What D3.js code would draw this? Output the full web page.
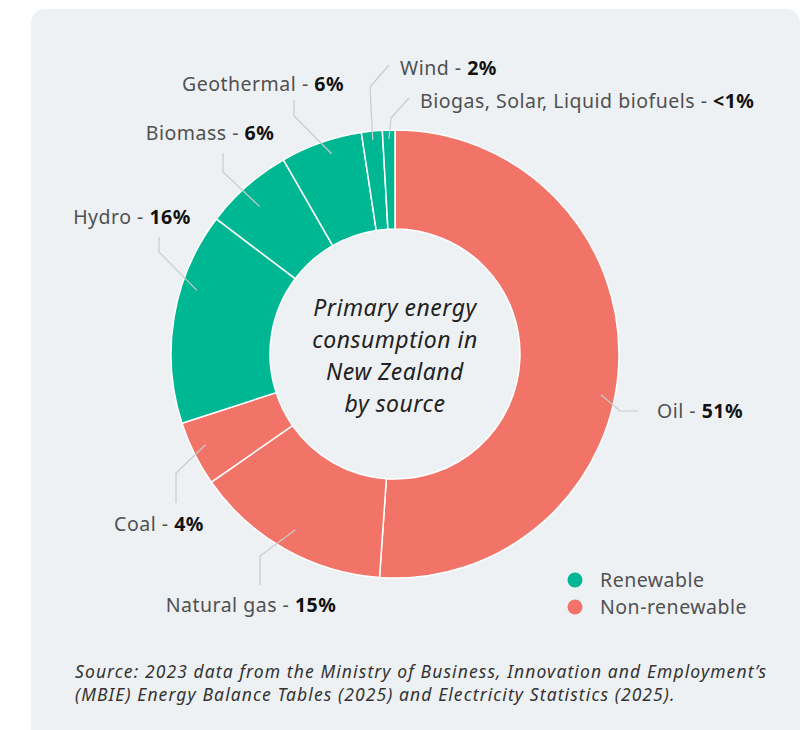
<!DOCTYPE html>
<html>
<head>
<meta charset="utf-8">
<script src="https://cdn.jsdelivr.net/npm/d3@7"></script>
<style>
  body { margin: 0; background: #fff; }
  svg { display: block; }
</style>
</head>
<body>
<div id="chart"></div>
<script>
// data (percent shares, clockwise from 12 o'clock)
const sources = ['Oil', 'Natural gas', 'Coal', 'Hydro', 'Biomass', 'Geothermal', 'Wind', 'Biogas, Solar, Liquid biofuels'];
const shares = [51.1, 14.2, 4.7, 15.3, 6.4, 5.9, 1.5, 0.9];
const shareLabels = ['51%', '15%', '4%', '16%', '6%', '6%', '2%', '<1%'];
const groups = ['Non-renewable', 'Non-renewable', 'Non-renewable', 'Renewable', 'Renewable', 'Renewable', 'Renewable', 'Renewable'];
const legendItems = ['Renewable', 'Non-renewable'];
const centerLines = ['Primary energy', 'consumption in', 'New Zealand', 'by source'];
const sourceNote = [
    'Source: 2023 data from the Ministry of Business, Innovation and Employment\u2019s',
    '(MBIE) Energy Balance Tables (2025) and Electricity Statistics (2025).'
];

// label placement: where along the slice the leader starts, the leader bends, label anchor
const labelLayout = [
    { t: 0.55, r: 210, pts: [[620, 411], [638, 411]], x: 657, y: 411, anchor: 'start' },
    { t: 0.5,  r: 202, pts: [[260, 556], [260, 585]], x: 251, y: 605, anchor: 'middle' },
    { t: 0.55, r: 210, pts: [[176, 473], [176, 503]], x: 159, y: 524, anchor: 'middle' },
    { t: 0.65, r: 208, pts: [[159, 252], [159, 237]], x: 132, y: 217, anchor: 'middle' },
    { t: 0.45, r: 200, pts: [[223, 172], [223, 153]], x: 210, y: 133, anchor: 'middle' },
    { t: 0.58, r: 210, pts: [[294, 116], [294, 100]], x: 263, y: 84, anchor: 'middle' },
    { t: 0.5,  r: 215, pts: [[370, 87], [389, 65]],   x: 400, y: 68, anchor: 'start' },
    { t: 0.5,  r: 215, pts: [[391, 118], [409, 98]],  x: 420, y: 101, anchor: 'start' }
];

const width = 805;
const height = 730;
const cx = 395, cy = 354;
const outerR = 224, innerR = 125;
const font = '"Noto Sans", sans-serif';

const color = d3.scaleOrdinal()
    .domain(legendItems)
    .range(['#00b793', '#f27468']);

const svg = d3.select('#chart')
    .append('svg')
    .attr('width', width)
    .attr('height', height);

// panel background
svg.append('rect')
    .attr('x', 31)
    .attr('y', 9)
    .attr('width', 769)
    .attr('height', 740)
    .attr('rx', 14)
    .attr('fill', '#eef1f4');

const data = sources.map((s, i) => ({ name: s, value: shares[i], label: shareLabels[i], group: groups[i] }));

const pie = d3.pie()
    .sort(null)
    .value(d => d.value);

const arcs = pie(data);

const arc = d3.arc()
    .innerRadius(innerR)
    .outerRadius(outerR);

const g = svg.append('g')
    .attr('transform', `translate(${cx},${cy})`);

g.selectAll('path.slice')
    .data(arcs)
    .enter()
    .append('path')
    .attr('class', 'slice')
    .attr('d', arc)
    .attr('fill', d => color(d.data.group))
    .attr('stroke', '#fff')
    .attr('stroke-width', 1.5);

// leader lines + labels
const lead = svg.append('g').attr('class', 'leaders');
arcs.forEach((a, i) => {
    const L = labelLayout[i];
    const ang = a.startAngle + L.t * (a.endAngle - a.startAngle);
    const start = [cx + L.r * Math.sin(ang), cy - L.r * Math.cos(ang)];
    const pts = [start].concat(L.pts);
    lead.append('polyline')
        .attr('points', pts.map(p => p.join(',')).join(' '))
        .attr('fill', 'none')
        .attr('stroke', '#c9cbcd')
        .attr('stroke-width', 1.2);

    const txt = svg.append('text')
        .attr('x', L.x)
        .attr('y', L.y)
        .attr('dy', '0.35em')
        .attr('text-anchor', L.anchor)
        .attr('font-family', font)
        .attr('font-size', 19.5)
        .attr('letter-spacing', 0.5);
    txt.append('tspan')
        .attr('fill', '#505050')
        .text(a.data.name + ' - ');
    txt.append('tspan')
        .attr('fill', '#111')
        .attr('font-weight', 'bold')
        .text(a.data.label);
});

// center title
svg.append('g')
    .selectAll('text')
    .data(centerLines)
    .enter()
    .append('text')
    .attr('x', cx)
    .attr('y', (d, i) => cy - 46 + i * 32)
    .attr('dy', '0.35em')
    .attr('text-anchor', 'middle')
    .attr('font-family', font)
    .attr('font-style', 'italic')
    .attr('font-size', 23)
    .attr('letter-spacing', 0.5)
    .attr('fill', '#222')
    .text(d => d);

// legend
const legend = svg.append('g')
    .attr('transform', 'translate(575,580)');
legendItems.forEach((k, i) => {
    legend.append('circle')
        .attr('cx', 0)
        .attr('cy', i * 27)
        .attr('r', 7.5)
        .attr('fill', color(k));
    legend.append('text')
        .attr('x', 25)
        .attr('y', i * 27)
        .attr('dy', '0.35em')
        .attr('font-family', font)
        .attr('font-size', 19.5)
        .attr('letter-spacing', 0.5)
        .attr('fill', '#505050')
        .text(k);
});

// source note
svg.append('g')
    .selectAll('text')
    .data(sourceNote)
    .enter()
    .append('text')
    .attr('x', 75)
    .attr('y', (d, i) => 672 + i * 23)
    .attr('dy', '0.35em')
    .attr('font-family', font)
    .attr('font-style', 'italic')
    .attr('font-size', 17.5)
    .attr('letter-spacing', 1.1)
    .attr('fill', '#333')
    .text(d => d);
</script>
</body>
</html>
